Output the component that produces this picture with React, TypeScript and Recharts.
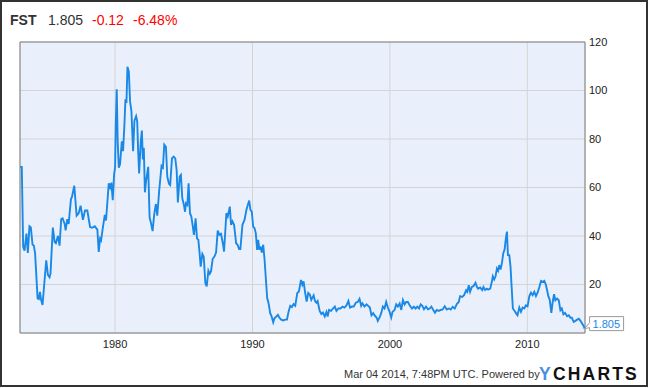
import { LineChart, Line, XAxis, YAxis, CartesianGrid, ReferenceArea, LabelList } from 'recharts';

const years = [
  1973.09, 1973.21, 1973.31, 1973.41, 1973.55, 1973.65, 1973.77, 1973.87, 1973.99, 1974.09,
  1974.18, 1974.36, 1974.45, 1974.53, 1974.62, 1974.72, 1974.99, 1975.11, 1975.23, 1975.30,
  1975.47, 1975.60, 1975.69, 1975.84, 1975.96, 1976.08, 1976.18, 1976.33, 1976.40, 1976.52,
  1976.62, 1976.79, 1976.86, 1977.03, 1977.20, 1977.35, 1977.49, 1977.66, 1977.81, 1977.98,
  1978.18, 1978.32, 1978.52, 1978.71, 1978.81, 1978.91, 1978.98, 1979.10, 1979.25, 1979.34,
  1979.54, 1979.64, 1979.73, 1979.83, 1979.93, 1980.00, 1980.05, 1980.12, 1980.19, 1980.27,
  1980.36, 1980.49, 1980.58, 1980.68, 1980.75, 1980.83, 1980.90, 1981.00, 1981.09, 1981.19,
  1981.31, 1981.41, 1981.53, 1981.61, 1981.68, 1981.75, 1981.87, 1981.95, 1982.02, 1982.09,
  1982.17, 1982.26, 1982.41, 1982.51, 1982.60, 1982.73, 1982.85, 1982.97, 1983.07, 1983.21,
  1983.38, 1983.48, 1983.58, 1983.70, 1983.80, 1983.92, 1984.01, 1984.14, 1984.26, 1984.38,
  1984.48, 1984.57, 1984.70, 1984.79, 1984.89, 1985.01, 1985.09, 1985.16, 1985.26, 1985.35,
  1985.45, 1985.55, 1985.64, 1985.74, 1985.86, 1985.96, 1986.06, 1986.13, 1986.23, 1986.35,
  1986.45, 1986.57, 1986.67, 1986.79, 1986.89, 1986.98, 1987.10, 1987.23, 1987.35, 1987.47,
  1987.59, 1987.71, 1987.86, 1987.93, 1988.10, 1988.20, 1988.35, 1988.44, 1988.54, 1988.66,
  1988.81, 1988.91, 1989.03, 1989.12, 1989.27, 1989.42, 1989.56, 1989.66, 1989.76, 1989.85,
  1989.95, 1990.05, 1990.15, 1990.24, 1990.34, 1990.41, 1990.51, 1990.58, 1990.68, 1990.78,
  1990.88, 1990.97, 1991.07, 1991.17, 1991.29, 1991.39, 1991.51, 1991.61, 1991.70, 1991.85,
  1991.97, 1992.09, 1992.24, 1992.38, 1992.51, 1992.63, 1992.75, 1992.87, 1992.99, 1993.11,
  1993.26, 1993.38, 1993.53, 1993.63, 1993.72, 1993.82, 1993.94, 1994.06, 1994.18, 1994.28,
  1994.36, 1994.45, 1994.55, 1994.65, 1994.74, 1994.89, 1995.01, 1995.13, 1995.26, 1995.38,
  1995.47, 1995.57, 1995.72, 1995.86, 1995.99, 1996.11, 1996.25, 1996.40, 1996.55, 1996.69,
  1996.84, 1996.98, 1997.10, 1997.25, 1997.37, 1997.52, 1997.66, 1997.79, 1997.91, 1998.00,
  1998.15, 1998.30, 1998.42, 1998.54, 1998.66, 1998.78, 1998.91, 1999.03, 1999.12, 1999.25,
  1999.37, 1999.49, 1999.61, 1999.73, 1999.85, 1999.98, 2000.10, 2000.19, 2000.34, 2000.46,
  2000.58, 2000.71, 2000.83, 2000.95, 2001.07, 2001.19, 2001.31, 2001.46, 2001.61, 2001.75,
  2001.87, 2002.00, 2002.12, 2002.24, 2002.36, 2002.48, 2002.63, 2002.77, 2002.90, 2003.02,
  2003.16, 2003.28, 2003.41, 2003.55, 2003.70, 2003.84, 2003.99, 2004.14, 2004.28, 2004.43,
  2004.57, 2004.72, 2004.87, 2005.01, 2005.11, 2005.26, 2005.40, 2005.55, 2005.64, 2005.74,
  2005.84, 2005.96, 2006.08, 2006.23, 2006.33, 2006.42, 2006.57, 2006.72, 2006.81, 2006.93,
  2007.06, 2007.15, 2007.30, 2007.42, 2007.49, 2007.59, 2007.69, 2007.79, 2007.88, 2007.96,
  2008.05, 2008.15, 2008.25, 2008.35, 2008.44, 2008.52, 2008.59, 2008.69, 2008.78, 2008.86,
  2008.95, 2009.08, 2009.20, 2009.29, 2009.42, 2009.54, 2009.66, 2009.78, 2009.90, 2010.02,
  2010.15, 2010.27, 2010.39, 2010.51, 2010.63, 2010.75, 2010.88, 2011.00, 2011.12, 2011.24,
  2011.34, 2011.44, 2011.53, 2011.63, 2011.75, 2011.85, 2011.95, 2012.04, 2012.17, 2012.29,
  2012.41, 2012.51, 2012.63, 2012.75, 2012.90, 2013.02, 2013.14, 2013.24, 2013.38, 2013.50,
  2013.63, 2013.75, 2013.87, 2013.99, 2014.11, 2014.17,
];

const prices = [
  68.5, 68.5, 35.5, 34, 41, 33, 44, 43.5, 36.5, 36,
  32.7, 14.3, 14, 17, 13.6, 11.6, 30, 24, 23, 24.5,
  43.5, 37.5, 37, 40, 36, 47, 47.3, 45, 42.3, 47,
  45, 55.3, 56, 60.7, 48.4, 49.4, 52.5, 46.7, 50.5, 50.5,
  43.7, 43.4, 44, 42.6, 33.4, 38.9, 38.2, 43, 48.7, 46.4,
  61.7, 60, 62, 54.8, 65.5, 68.2, 86, 100.5, 79, 68.2,
  69.6, 79, 75, 86, 95.8, 95.5, 109.8, 107.8, 95.5, 91.4,
  75, 87.6, 89.4, 87.3, 75, 65.8, 79, 83.5, 71.6, 76.4,
  58, 62.8, 68.5, 47.7, 45.7, 42, 49, 53.2, 48.4, 58.7,
  68.9, 68.2, 77.7, 76.8, 64.5, 61.5, 61, 72, 72.7, 72,
  67.2, 53.8, 64.5, 65.2, 55.6, 52.8, 50, 53.5, 52.8, 61.7,
  49.4, 48, 44.6, 40.5, 47.3, 39, 38.4, 34.3, 27.4, 32.6,
  31.5, 20.6, 19.2, 25.7, 24.4, 25.4, 30.5, 31.5, 33.2, 42.2,
  40.5, 40.9, 36.4, 33.6, 49.4, 48, 52.1, 44.6, 46, 44.6,
  37, 36.4, 34.6, 34.6, 44.6, 46.6, 50.8, 52.8, 54.6, 50.8,
  50, 43.9, 43.2, 41.2, 34.3, 38.4, 34.3, 35.7, 33.2, 36.4,
  30.2, 22.6, 14.4, 12.3, 8.2, 6.9, 4.4, 6.2, 6.6, 7.5,
  6.2, 5.5, 5.2, 5.5, 5.5, 8.9, 11.2, 10.7, 11.9, 11.2,
  16.5, 17.1, 21.9, 19.9, 21.3, 17.1, 13, 16.5, 15.8, 13.7,
  14.6, 15.5, 13.2, 12.5, 13.2, 9.1, 7.8, 8.4, 6.8, 8.7,
  6.8, 9.5, 9.1, 10.1, 10.9, 9.1, 10.1, 10.1, 10.9, 10.5,
  11.4, 13.2, 10.5, 10.9, 10.9, 12.5, 12.8, 14.1, 11.2, 12.2,
  10.9, 11.8, 11.2, 10.5, 7.3, 8.2, 7.1, 6.4, 5, 6.4,
  8.2, 10.9, 10.1, 12.8, 10.5, 8.7, 6.4, 8.7, 9.5, 11.8,
  10.9, 12.2, 9.5, 13.6, 11.8, 12.8, 12.8, 11.2, 10.1, 10.9,
  10.1, 10.9, 10.1, 11.8, 11.2, 9.8, 10.9, 9.8, 10.1, 10.9,
  9.5, 8.4, 9.5, 9.1, 9.5, 9.7, 11, 9.7, 10.1, 9.7,
  10.8, 10.1, 11.9, 12.8, 15.2, 14.9, 15.6, 17.7, 17, 19.7,
  17, 19, 19.3, 20.7, 19, 18.3, 18.8, 17.7, 19, 17.7,
  18.3, 17.9, 18.3, 21.1, 23.4, 22.1, 23.4, 26.6, 25.7, 28,
  26.2, 28.7, 32.8, 34.5, 39, 41.8, 32.1, 32.1, 27.3, 19,
  10.1, 9.1, 8, 7.3, 10.5, 8.7, 10.5, 10.1, 11.4, 11,
  15.2, 16.6, 15.6, 17, 15.2, 16.6, 19, 21.5, 21.1, 21.5,
  20.1, 17.7, 15.2, 13.8, 8.3, 12.8, 16, 13.5, 14.2, 13.5,
  9.4, 10.1, 7.7, 8.3, 6.9, 7.3, 6.3, 6.3, 4.6, 5,
  5.5, 5.9, 5, 3.9, 2.8, 1.805,
];

const yearTicks = [1980, 1990, 2000, 2010];
const priceTicks = [20, 40, 60, 80, 100, 120];
const xDomain = [1973.08, 2014.2];

const ticker = 'FST';
const lastPrice = '1.805';
const change = '-0.12';
const changePct = '-6.48%';

const data = years.map((t, i) => ({ t, price: prices[i] }));
const font = "Arial, 'Liberation Sans', sans-serif";

function LastLabel(props: any) {
  const { x, y, index } = props;
  if (index !== data.length - 1) return null;
  const bx = x + 5;
  const by = y - 12;
  return (
    <g>
      <path
        d={`M${x},${y} L${bx},${by + 6} L${bx},${by} L${bx + 34},${by} L${bx + 34},${by + 14} L${bx},${by + 14} L${bx},${by + 11} Z`}
        fill="#fff"
        stroke="#999"
        strokeWidth={1}
      />
      <text x={bx + 3} y={by + 11} fontSize={11} fill="#1a88e6" fontFamily={font}>
        {lastPrice}
      </text>
    </g>
  );
}

export default function App() {
  return (
    <div style={{ position: 'absolute', left: 0, top: 0, width: 650, height: 388, background: '#fff', fontFamily: font }}>
      <LineChart width={650} height={388} data={data} margin={{ top: 42, right: 20, bottom: 35, left: 20 }}>
        <CartesianGrid stroke="#d4d4d4" fill="#eaf0fb" />
        <XAxis
          dataKey="t"
          type="number"
          domain={xDomain}
          ticks={yearTicks}
          allowDataOverflow
          height={20}
          axisLine={false}
          tickLine={false}
          tickSize={5}
          tickMargin={2}
          tick={{ fontSize: 11, fill: '#222', fontFamily: font }}
        />
        <YAxis
          orientation="right"
          domain={[0, 120]}
          ticks={priceTicks}
          width={45}
          axisLine={false}
          tickLine={false}
          tickSize={2}
          tickMargin={2}
          tick={{ fontSize: 11, fill: '#222', fontFamily: font }}
        />
        <ReferenceArea x1={xDomain[0]} x2={xDomain[1]} y1={0} y2={120} fill="none" stroke="#808080" strokeWidth={1} />
        <Line
          type="linear"
          dataKey="price"
          stroke="#1a88e6"
          strokeWidth={1.9}
          dot={false}
          isAnimationActive={false}
        >
          <LabelList dataKey="price" content={LastLabel} />
        </Line>
      </LineChart>
      <svg width={650} height={388} style={{ position: 'absolute', left: 0, top: 0, pointerEvents: 'none' }}>
        <text y={25} fontSize={14} fontFamily={font}>
          <tspan x={10} fontWeight="bold" fill="#333">{ticker}</tspan>
          <tspan x={48} fill="#333">{lastPrice}</tspan>
          <tspan x={92} fill="#f00">{change}</tspan>
          <tspan x={133} fill="#f00">{changePct}</tspan>
        </text>
        <text x={344} y={378} fontSize={11} fill="#333" fontFamily={font}>
          Mar 04 2014, 7:48PM UTC. Powered by
        </text>
        <text x={539} y={380} fontSize={17.5} fontWeight={900} letterSpacing={2.2} fontFamily={font}>
          <tspan fill="#4a8fe3">Y</tspan>
          <tspan fill="#111">CHARTS</tspan>
        </text>
        <rect x={1} y={1} width={646} height={385} fill="none" stroke="#333" strokeWidth={2} />
      </svg>
    </div>
  );
}
